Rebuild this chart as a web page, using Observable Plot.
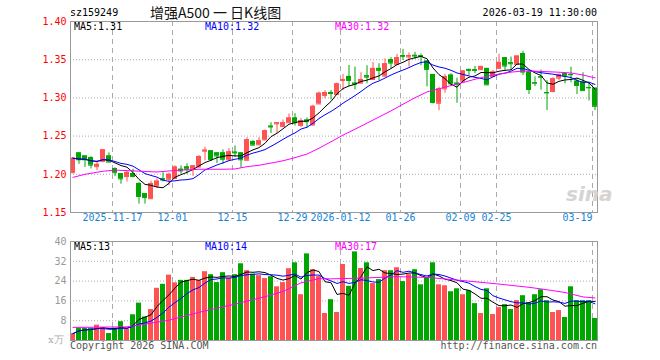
<!DOCTYPE html>
<html><head><meta charset="utf-8">
<script src="https://cdn.jsdelivr.net/npm/d3@7"></script>
<script src="https://cdn.jsdelivr.net/npm/@observablehq/plot@0.6"></script>
<style>
body{margin:0;background:#fff;width:660px;height:360px;overflow:hidden;position:relative;font-family:"DejaVu Sans Mono",monospace;}
.t{position:absolute;white-space:nowrap;font-size:10px;line-height:10px;font-family:"DejaVu Sans Mono",monospace;}
#price,#vol{position:absolute;left:0;}
</style></head><body>
<div id="price" style="top:0"></div>
<div id="vol" style="top:232px"></div>
<div class="t" style="left:70px;top:8px;color:#000">sz159249</div>
<div class="t" style="left:150px;top:4px;font-size:14px;line-height:16px;font-family:'Noto Sans CJK SC',sans-serif;color:#111">增强A500 一 日K线图</div>
<div class="t" style="right:63px;top:8px;color:#000">2026-03-19 11:30:00</div>
<div id="pl"></div>
<div class="t" style="left:566px;top:184px;font-size:20px;line-height:20px;font-family:'DejaVu Sans',sans-serif;font-weight:bold;font-style:italic;color:#d4d4d4">sina</div>
<div class="t" style="left:48px;top:335px;color:#aaa;font-family:'DejaVu Serif',serif">x万</div>
<div class="t" style="left:70px;top:341px;color:#555">Copyright 2026 SINA.COM</div>
<div class="t" style="right:63px;top:341px;color:#555">http://finance.sina.com.cn</div>
<script>
const dates = ["2025-11-06","2025-11-07","2025-11-10","2025-11-11","2025-11-12","2025-11-13","2025-11-14","2025-11-17","2025-11-18","2025-11-19","2025-11-20","2025-11-21","2025-11-24","2025-11-25","2025-11-26","2025-11-27","2025-11-28","2025-12-01","2025-12-02","2025-12-03","2025-12-04","2025-12-05","2025-12-08","2025-12-09","2025-12-10","2025-12-11","2025-12-12","2025-12-15","2025-12-16","2025-12-17","2025-12-18","2025-12-19","2025-12-22","2025-12-23","2025-12-24","2025-12-25","2025-12-26","2025-12-29","2025-12-30","2025-12-31","2026-01-05","2026-01-06","2026-01-07","2026-01-08","2026-01-09","2026-01-12","2026-01-13","2026-01-14","2026-01-15","2026-01-16","2026-01-19","2026-01-20","2026-01-21","2026-01-22","2026-01-23","2026-01-26","2026-01-27","2026-01-28","2026-01-29","2026-01-30","2026-02-02","2026-02-03","2026-02-04","2026-02-05","2026-02-06","2026-02-09","2026-02-10","2026-02-11","2026-02-12","2026-02-13","2026-02-24","2026-02-25","2026-02-26","2026-02-27","2026-03-02","2026-03-03","2026-03-04","2026-03-05","2026-03-06","2026-03-09","2026-03-10","2026-03-11","2026-03-12","2026-03-13","2026-03-16","2026-03-17","2026-03-18","2026-03-19"];
const opens = [1.202,1.228,1.224,1.222,1.210,1.217,1.224,1.2075,1.201,1.197,1.201,1.188,1.1745,1.168,1.1845,1.1943,1.1935,1.1945,1.2066,1.2096,1.2066,1.2096,1.2303,1.2307,1.228,1.228,1.219,1.229,1.228,1.2184,1.243,1.2386,1.245,1.263,1.266,1.2627,1.2675,1.2737,1.264,1.271,1.2645,1.2921,1.303,1.307,1.3044,1.3228,1.3281,1.3193,1.3193,1.329,1.3241,1.3386,1.3285,1.35,1.3439,1.3553,1.3535,1.3557,1.3553,1.3482,1.3307,1.293,1.3118,1.3298,1.3193,1.3219,1.3373,1.3369,1.3369,1.3386,1.3281,1.3386,1.3526,1.346,1.3439,1.3579,1.3338,1.3197,1.3276,1.307,1.3083,1.3259,1.3316,1.3307,1.3219,1.3206,1.3136,1.3127];
const highs = [1.222,1.228,1.224,1.223,1.2175,1.232,1.228,1.2085,1.201,1.204,1.2066,1.189,1.1745,1.191,1.194,1.202,1.2015,1.211,1.211,1.2136,1.2115,1.2245,1.2355,1.2307,1.228,1.232,1.2338,1.237,1.228,1.2478,1.2439,1.248,1.258,1.2675,1.2678,1.271,1.279,1.2794,1.2728,1.2737,1.2904,1.3075,1.3096,1.3096,1.3193,1.3307,1.3425,1.3404,1.3329,1.342,1.3465,1.3447,1.351,1.3526,1.357,1.3636,1.3588,1.3597,1.3575,1.3482,1.3307,1.314,1.3307,1.3316,1.3259,1.336,1.3373,1.3412,1.3412,1.3386,1.336,1.357,1.3526,1.3535,1.3548,1.361,1.3338,1.3276,1.3364,1.3224,1.3263,1.3316,1.3329,1.3403,1.325,1.3329,1.3197,1.3127];
const lows = [1.201,1.213,1.209,1.207,1.205,1.215,1.215,1.197,1.187,1.190,1.1956,1.161,1.161,1.167,1.182,1.190,1.185,1.1935,1.200,1.200,1.1975,1.208,1.2175,1.2167,1.214,1.213,1.218,1.222,1.208,1.217,1.2373,1.2373,1.244,1.2535,1.2535,1.261,1.2675,1.2632,1.2614,1.2605,1.2632,1.2916,1.2987,1.2974,1.3031,1.3096,1.315,1.3105,1.3184,1.3184,1.3237,1.3228,1.327,1.3382,1.3425,1.349,1.3404,1.3504,1.3422,1.3145,1.2921,1.2833,1.3061,1.3162,1.293,1.3206,1.3294,1.3316,1.336,1.3162,1.3272,1.338,1.336,1.336,1.3434,1.3294,1.3044,1.3149,1.3101,1.2834,1.3066,1.3228,1.3184,1.3197,1.3044,1.3092,1.296,1.2833];
const closes = [1.221,1.219,1.219,1.212,1.213,1.232,1.216,1.202,1.194,1.2025,1.197,1.171,1.1695,1.188,1.191,1.1925,1.200,1.2095,1.2044,1.2066,1.211,1.2232,1.2316,1.2193,1.224,1.2197,1.2294,1.228,1.219,1.2452,1.2382,1.2439,1.257,1.262,1.2675,1.2675,1.2737,1.2675,1.2702,1.2689,1.289,1.3061,1.307,1.3057,1.3184,1.3241,1.3228,1.318,1.3241,1.3272,1.3386,1.336,1.3447,1.3456,1.3526,1.3544,1.3553,1.3548,1.3544,1.3373,1.2939,1.3118,1.328,1.3184,1.318,1.3351,1.336,1.336,1.3412,1.3171,1.3338,1.3465,1.3417,1.3447,1.3548,1.3338,1.311,1.3193,1.3272,1.3066,1.325,1.3303,1.3285,1.3303,1.3162,1.3096,1.3132,1.289];
const volumes = [2.8,5.0,5.0,5.0,6.2,5.0,2.8,5.0,7.6,4.5,10.4,15.1,9.5,12.5,21.1,22.7,26.4,23.3,24.3,24.3,25.5,24.2,27.8,26.6,23.4,27.4,25.2,26.6,31.0,28.2,26.8,26.2,25.0,25.8,21.7,23.4,29.0,31.4,18.5,35.0,28.6,25.8,10.9,16.5,11.3,30.7,21.9,35.8,29.1,31.4,23.0,24.6,28.2,28.2,29.4,23.8,26.6,28.6,22.5,25.4,31.4,22.5,22.1,19.7,20.9,18.5,20.1,14.9,10.9,20.9,10.5,13.3,14.5,12.5,16.1,18.1,15.3,18.5,20.5,16.1,11.3,12.1,9.3,21.7,16.1,16.1,16.1,8.9];
const ma30PriceIdx = [0,2,5,7,10,14,17,21,25,27,29,31,33,35,37,39,41,43,45,47,49,51,53,55,57,59,61,63,65,67,69,71,73,75,77,79,81,83,85,87];
const ma30Price = [1.1960,1.2000,1.2040,1.2055,1.2045,1.2030,1.2050,1.2066,1.2066,1.2070,1.2100,1.2118,1.2147,1.2177,1.2218,1.2265,1.2341,1.2426,1.2513,1.2590,1.2670,1.2750,1.2830,1.2917,1.3002,1.3078,1.3119,1.3161,1.3201,1.3244,1.3284,1.3312,1.3337,1.3352,1.3349,1.3343,1.3336,1.3326,1.3299,1.3263];
const ma30VolIdx = [0,9,11,16,21,27,32,35,38,41,43,48,54,59,65,68,71,76,79,82,85,87];
const ma30Vol = [5.3,5.5,6.2,8.2,11.4,14.7,17.7,19.8,23.3,25.0,24.9,25.2,25.8,25.5,24.2,23.5,22.8,21.5,20.5,19.4,17.6,17.2];
const priceTicks = [1.15,1.20,1.25,1.30,1.35,1.40];
const volTicks = [8,16,24,32,40];
const tickDates = ["2025-11-17","2025-12-01","2025-12-15","2025-12-29","2026-01-12","2026-01-26","2026-02-09","2026-02-25","2026-03-19"];
const tickLabels = ["2025-11-17","12-01","12-15","12-29","2026-01-12","01-26","02-09","02-25","03-19"];
const priceMaText = ["MA5:1.31","MA10:1.32","MA30:1.32"];
const volMaText = ["MA5:13","MA10:14","MA30:17"];
const maColors = ["#000","#0000ff","#ff00ff"];
const maLeft = [74,205,335];

const RED = "#ff5252", GREEN = "#00a600";
const data = dates.map((d,i)=>({date:d, open:opens[i], high:highs[i], low:lows[i], close:closes[i], vol:volumes[i]}));
const col = d => d.close >= d.open ? RED : GREEN;
const xOpt = {type:"band", domain:dates, paddingInner:1/6, paddingOuter:0, align:0, round:false, axis:null};
const style = {fontFamily:"DejaVu Sans Mono, monospace", fontSize:"10px", background:"transparent", overflow:"visible"};
const lastTick = tickDates.length-1;

const price = Plot.plot({
  width:660, height:232, marginLeft:70, marginRight:63, marginTop:21, marginBottom:20,
  style, x:xOpt,
  y:{domain:[1.15,1.40], axis:null},
  marks:[
    Plot.ruleY(priceTicks.slice(1,-1), {stroke:"#aaa", strokeDasharray:"1,2"}),
    Plot.ruleX(tickDates, {x:d=>d, dx:-2.5, stroke:"#aaa", strokeDasharray:"5,4"}),
    Plot.axisY({ticks:priceTicks, anchor:"left", tickSize:0, tickPadding:4, fill:"#ff0000", tickFormat:d=>d.toFixed(2), label:null}),
    Plot.text(tickDates.slice(0,lastTick), {x:d=>d, text:(d,i)=>tickLabels[i], frameAnchor:"bottom", dy:8, dx:-2.5, fill:"#1585d8"}),
    Plot.text([tickDates[lastTick]], {x:d=>d, text:()=>tickLabels[lastTick], frameAnchor:"bottom", dy:8, dx:-2.5, textAnchor:"end", fill:"#1585d8"}),
    Plot.ruleX(data, {x:"date", y1:"low", y2:"high", stroke:col}),
    Plot.barY(data, {x:"date", y1:"open", y2:"close", fill:col}),
    Plot.tickY(data, {x:"date", y:"open", stroke:col}),
    Plot.tickY(data, {x:"date", y:"close", stroke:col}),
    Plot.lineY(data, Plot.windowY({k:5, anchor:"end", strict:false}, {x:"date", y:"close", stroke:"#000", strokeWidth:1})),
    Plot.lineY(data, Plot.windowY({k:10, anchor:"end", strict:false}, {x:"date", y:"close", stroke:"#0000ff", strokeWidth:1})),
    Plot.lineY(ma30PriceIdx.map((k,i)=>({date:dates[k], v:ma30Price[i]})), {x:"date", y:"v", stroke:"#ff00ff", strokeWidth:1}),
    Plot.frame({stroke:"#999"})
  ]
});
document.getElementById("price").appendChild(price);

const vol = Plot.plot({
  width:660, height:128, marginLeft:70, marginRight:63, marginTop:9, marginBottom:20,
  style, x:xOpt,
  y:{domain:[0,40], axis:null},
  marks:[
    Plot.ruleY(volTicks.slice(0,-1), {stroke:"#aaa", strokeDasharray:"1,2"}),
    Plot.ruleX(tickDates, {x:d=>d, dx:-2.5, stroke:"#aaa", strokeDasharray:"5,4"}),
    Plot.axisY({ticks:volTicks, anchor:"left", tickSize:0, tickPadding:4, fill:"#999", label:null}),
    Plot.barY(data, {x:"date", y:"vol", fill:col}),
    Plot.lineY(data, Plot.windowY({k:5, anchor:"end", strict:false}, {x:"date", y:"vol", stroke:"#000", strokeWidth:1})),
    Plot.lineY(data, Plot.windowY({k:10, anchor:"end", strict:false}, {x:"date", y:"vol", stroke:"#0000ff", strokeWidth:1})),
    Plot.lineY(ma30VolIdx.map((k,i)=>({date:dates[k], v:ma30Vol[i]})), {x:"date", y:"v", stroke:"#ff00ff", strokeWidth:1}),
    Plot.frame({stroke:"#999"})
  ]
});
document.getElementById("vol").appendChild(vol);

const pl = document.getElementById("pl");
priceMaText.forEach((t,i)=>{
  const d = document.createElement("div"); d.className="t";
  d.style.left = maLeft[i]+"px"; d.style.top = "22px"; d.style.color = maColors[i]; d.textContent = t; pl.appendChild(d);
});
volMaText.forEach((t,i)=>{
  const d = document.createElement("div"); d.className="t";
  d.style.left = maLeft[i]+"px"; d.style.top = "242px"; d.style.color = maColors[i]; d.textContent = t; pl.appendChild(d);
});
</script>
</body></html>
